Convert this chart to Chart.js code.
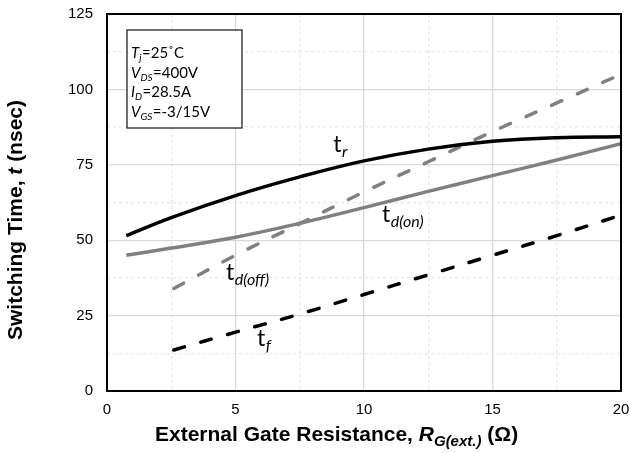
<!DOCTYPE html>
<html>
<head>
<meta charset="utf-8">
<script src="https://cdn.jsdelivr.net/npm/chart.js@4"></script>
<style>
html,body{margin:0;padding:0;background:#fff;}
#wrap{width:630px;height:453px;position:relative;}
</style>
</head>
<body>
<div id="wrap"><canvas id="c" width="630" height="453"></canvas></div>
<script>
// ---- data ----
const rgA = [0.75, 2.5, 5, 7.5, 10, 12.5, 15, 17.5, 20];
const tR = [51.5, 57.5, 64.8, 71, 76.3, 80.2, 82.8, 84, 84.3];
const tDon = [45, 47.4, 51, 55.6, 60.8, 66.2, 71.4, 76.6, 82];
const rgB = [2.6, 5, 7.5, 10, 12.5, 15, 17.5, 20];
const tDoff = [34, 45, 55.5, 66, 76, 86, 95.5, 105];
const tF = [13.6, 19.5, 25.5, 32, 38.5, 45, 51.5, 58.3];
const xTicks = [0, 5, 10, 15, 20];
const yTicks = [0, 25, 50, 75, 100, 125];

const pts = (xs, ys) => xs.map((x, i) => ({x: x, y: ys[i]}));
const GRAY = '#808080';

// annotation texts (curve labels anchored in data units)
const curveLabels = [
  {main: 't', sub: 'r', x: 8.8, y: 79.3},
  {main: 't', sub: 'd(on)', x: 10.7, y: 56},
  {main: 't', sub: 'd(off)', x: 4.63, y: 36.7},
  {main: 't', sub: 'f', x: 5.84, y: 15}
];
const condLines = [
  [['T', 'main'], ['j', 'sub'], ['=25\u02DAC', 'norm']],
  [['V', 'main'], ['DS', 'sub'], ['=400V', 'norm']],
  [['I', 'main'], ['D', 'sub'], ['=28.5A', 'norm']],
  [['V', 'main'], ['GS', 'sub'], ['=-3/15V', 'norm']]
];

const decor = {
  id: 'decor',
  afterDatasetsDraw(chart) {
    const ctx = chart.ctx, a = chart.chartArea;
    const xs = chart.scales.x, ys = chart.scales.y;
    ctx.save();
    // frame
    ctx.strokeStyle = '#000';
    ctx.lineWidth = 2;
    ctx.strokeRect(a.left, a.top, a.right - a.left, a.bottom - a.top);

    // conditions box
    const bx = a.left + 20, by = a.top + 16, bw = 115, bh = 98;
    ctx.fillStyle = '#fff';
    ctx.fillRect(bx, by, bw, bh);
    ctx.strokeStyle = '#222';
    ctx.lineWidth = 1.3;
    ctx.strokeRect(bx, by, bw, bh);
    ctx.fillStyle = '#000';
    ctx.textBaseline = 'alphabetic';
    ctx.textAlign = 'left';
    condLines.forEach((ln, i) => {
      let cx = bx + 4;
      const base = by + 28 + i * 19.7;
      ln.forEach(([t, k]) => {
        let f, dy = 0;
        if (k === 'main') f = 'italic 15px Lato';
        else if (k === 'sub') { f = 'italic 10px Lato'; dy = 3; }
        else f = '15px Lato';
        ctx.font = f;
        ctx.fillText(t, cx, base + dy);
        cx += ctx.measureText(t).width + (k === 'sub' ? 0.5 : 0);
      });
    });

    // curve labels
    curveLabels.forEach(l => {
      const px = xs.getPixelForValue(l.x), py = ys.getPixelForValue(l.y);
      ctx.font = '23px Lato';
      ctx.fillText(l.main, px, py);
      const w = ctx.measureText(l.main).width;
      ctx.font = 'italic 16px Lato';
      ctx.fillText(l.sub, px + w + 0.5, py + 5);
    });

    // x axis title
    ctx.fillStyle = '#000';
    let tx = 155, ty = 441;
    const parts = [
      ['External Gate Resistance, ', 'bold 21px "Liberation Sans"', 0],
      ['R', 'bold italic 21px "Liberation Sans"', 0],
      ['G(ext.)', 'bold italic 15px "Liberation Sans"', 5],
      [' (\u03A9)', 'bold 21px "Liberation Sans"', 0]
    ];
    parts.forEach(([t, f, dy]) => {
      ctx.font = f;
      ctx.fillText(t, tx, ty + dy);
      tx += ctx.measureText(t).width;
    });

    // y axis title
    ctx.translate(22, 340);
    ctx.rotate(-Math.PI / 2);
    let yx = 0;
    const yparts = [
      ['Switching Time, ', 'bold 21px "Liberation Sans"'],
      ['t', 'bold italic 21px "Liberation Sans"'],
      [' (nsec)', 'bold 21px "Liberation Sans"']
    ];
    yparts.forEach(([t, f]) => {
      ctx.font = f;
      ctx.fillText(t, yx, 0);
      yx += ctx.measureText(t).width;
    });
    ctx.restore();
  }
};

const gridColor = (ctx, step) => (ctx.tick && Math.abs(ctx.tick.value % step) > 1e-6) ? '#e6e6e6' : '#d9d9d9';
const gridDash = (ctx, step) => (ctx.tick && Math.abs(ctx.tick.value % step) > 1e-6) ? [3, 3] : [];

new Chart(document.getElementById('c'), {
  type: 'line',
  data: {
    datasets: [
      {label: 'tr', data: pts(rgA, tR), borderColor: '#000', borderWidth: 3.5, tension: 0.4},
      {label: 'td(on)', data: pts(rgA, tDon), borderColor: GRAY, borderWidth: 3.5, tension: 0.4},
      {label: 'td(off)', data: pts(rgB, tDoff), borderColor: GRAY, borderWidth: 3.5, borderDash: [11, 17], borderCapStyle: 'round', tension: 0.4},
      {label: 'tf', data: pts(rgB, tF), borderColor: '#000', borderWidth: 3.5, borderDash: [11, 17], borderCapStyle: 'round', tension: 0.4}
    ]
  },
  options: {
    responsive: false,
    animation: false,
    events: [],
    layout: {padding: {top: 14, right: 9, left: 0, bottom: 0}},
    elements: {point: {radius: 0}, line: {fill: false}},
    plugins: {legend: {display: false}, tooltip: {enabled: false}, title: {display: false}},
    scales: {
      x: {
        type: 'linear', min: 0, max: 20,
        afterFit: s => { s.height = 62; s.paddingLeft = 0; s.paddingRight = 0; },
        afterBuildTicks: s => {
          const t = [];
          for (let v = 0; v <= 20; v += 2.5) t.push({value: v});
          s.ticks = t;
        },
        ticks: {
          autoSkip: false, maxRotation: 0, padding: 10, color: '#000',
          font: {family: '"Liberation Sans"', size: 15},
          callback: v => xTicks.includes(v) ? String(v) : ''
        },
        grid: {drawTicks: false, lineWidth: 1.3, color: c => gridColor(c, 5)},
        border: {display: false, dash: c => gridDash(c, 5)}
      },
      y: {
        type: 'linear', min: 0, max: 125,
        afterFit: s => { s.width = 107; s.paddingTop = 0; s.paddingBottom = 0; },
        afterBuildTicks: s => {
          const t = [];
          for (let v = 0; v <= 125; v += 12.5) t.push({value: v});
          s.ticks = t;
        },
        ticks: {
          autoSkip: false, padding: 14, color: '#000',
          font: {family: '"Liberation Sans"', size: 15},
          callback: v => yTicks.includes(v) ? String(v) : ''
        },
        grid: {drawTicks: false, lineWidth: 1.3, color: c => gridColor(c, 25)},
        border: {display: false, dash: c => gridDash(c, 25)}
      }
    }
  },
  plugins: [decor]
});
</script>
</body>
</html>
